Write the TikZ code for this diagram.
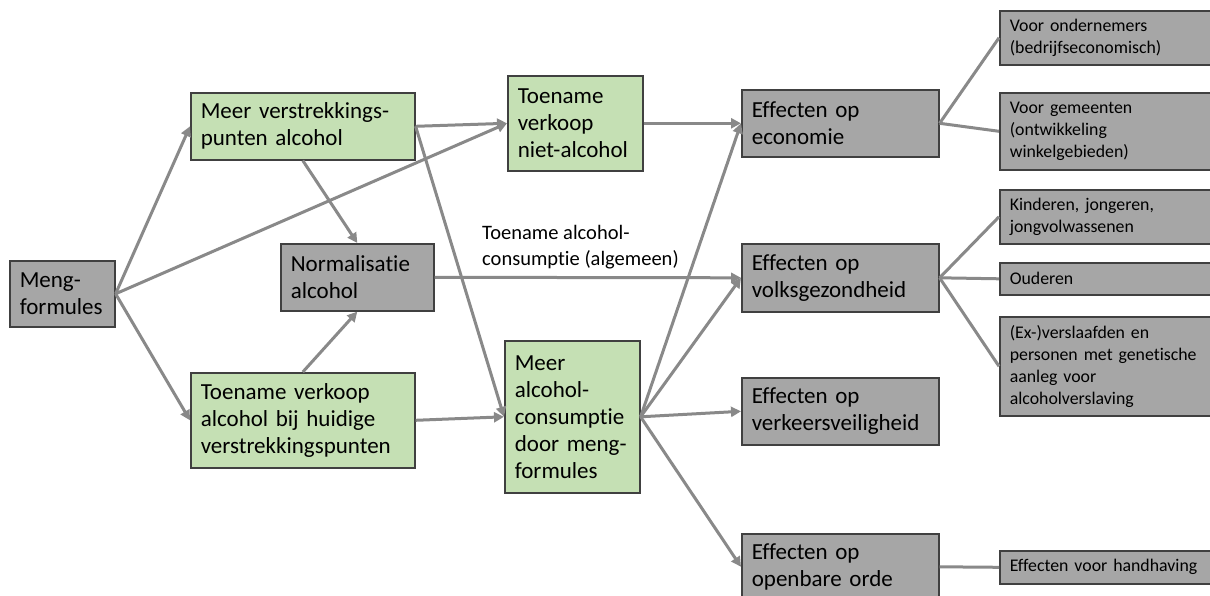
\documentclass[tikz,border=0pt]{standalone}
\usepackage{fontspec}
\setmainfont{Carlito}[Ligatures={NoCommon}]
\usetikzlibrary{arrows.meta}
\definecolor{gfill}{HTML}{C5E0B4}
\definecolor{dfill}{HTML}{A6A6A6}
\definecolor{bord}{HTML}{404040}
\definecolor{conn}{HTML}{898989}
\tikzset{
  box/.style={draw=bord, line width=1.6pt, anchor=north west, inner xsep=10pt, inner ysep=0pt, align=left, font=\fontsize{23}{27}\selectfont},
  greenbox/.style={box, fill=gfill},
  graybox/.style={box, fill=dfill},
  smallbox/.style={box, fill=dfill, font=\fontsize{17.8}{22}\selectfont},
  arr/.style={draw=conn, line width=3pt, -{Triangle[length=10pt,width=10pt]}},
  ln/.style={draw=conn, line width=3pt},
  lbl/.style={anchor=north west, inner sep=0pt, align=left, font=\fontsize{20.5}{26}\selectfont}
}
\begin{document}
\begin{tikzpicture}[x=1pt,y=-1pt]
\useasboundingbox (0,0) rectangle (1210,596);
\clip (0,0) rectangle (1210,596);
% left and middle nodes
\node[graybox, minimum width=105, text width=85, minimum height=66] (meng) at (9,260) {Meng-\\formules};
\node[greenbox, minimum width=224, text width=204, minimum height=67] (meer) at (190,92) {Meer verstrekkings-\\punten alcohol};
\node[graybox, minimum width=153, text width=133, minimum height=67] (norm) at (280,243) {Normalisatie\\alcohol};
\node[greenbox, minimum width=224, text width=204, minimum height=95] (toev) at (190,372) {Toename verkoop\\alcohol bij huidige\\verstrekkingspunten};
\node[greenbox, minimum width=135, text width=115, minimum height=95] (niet) at (507,75) {Toename\\verkoop\\niet-alcohol};
\node[greenbox, minimum width=135, text width=115, minimum height=152] (malc) at (504,340) {Meer\\alcohol-\\consumptie\\door meng-\\formules};
% effect nodes
\node[graybox, minimum width=197, text width=177, minimum height=67] (eco) at (741,89) {Effecten op\\economie};
\node[graybox, minimum width=197, text width=177, minimum height=68] (volk) at (741,243) {Effecten op\\volksgezondheid};
\node[graybox, minimum width=197, text width=177, minimum height=67] (verk) at (741,377) {Effecten op\\verkeersveiligheid};
\node[graybox, minimum width=197, text width=177, minimum height=66] (orde) at (741,533) {Effecten op\\openbare orde};
% right nodes
\node[smallbox, minimum width=260, text width=240, minimum height=54] (onder) at (999,10) {Voor ondernemers\\(bedrijfseconomisch)};
\node[smallbox, minimum width=260, text width=240, minimum height=77] (gem) at (999,92) {Voor gemeenten\\(ontwikkeling\\winkelgebieden)};
\node[smallbox, minimum width=260, text width=240, minimum height=54] (kind) at (999,189) {Kinderen, jongeren,\\jongvolwassenen};
\node[smallbox, minimum width=260, text width=240, minimum height=32] (oud) at (999,262) {Ouderen};
\node[smallbox, minimum width=260, text width=240, minimum height=99] (ex) at (999,316) {(Ex-)verslaafden en\\personen met genetische\\aanleg voor\\alcoholverslaving};
\node[smallbox, minimum width=260, text width=240, minimum height=33] (hand) at (999,550) {Effecten voor handhaving};
% label
\node[lbl] (lab) at (482,225) {Toename alcohol-\\consumptie (algemeen)};
% arrows
\draw[arr] (meng.east) -- (meer.west);
\draw[arr] (meng.east) -- (toev.west);
\draw[arr] (meng.east) -- (niet.west);
\draw[arr] (meer.east) -- (niet.west);
\draw[arr] (meer.south) -- (norm.north);
\draw[arr] (toev.north) -- (norm.south);
\draw[arr] (meer.east) -- (malc.west);
\draw[arr] (toev.east) -- (malc.west);
\draw[arr] (norm.east) -- (volk.west);
\draw[arr] (niet.east) -- (eco.west);
\draw[arr] (malc.east) -- (eco.west);
\draw[arr] (malc.east) -- (volk.west);
\draw[arr] (malc.east) -- (verk.west);
\draw[arr] (malc.east) -- (orde.west);
% lines
\draw[ln] (eco.east) -- (onder.west);
\draw[ln] (eco.east) -- (gem.west);
\draw[ln] (volk.east) -- (kind.west);
\draw[ln] (volk.east) -- (oud.west);
\draw[ln] (volk.east) -- (ex.west);
\draw[ln] (orde.east) -- (hand.west);
\end{tikzpicture}
\end{document}
